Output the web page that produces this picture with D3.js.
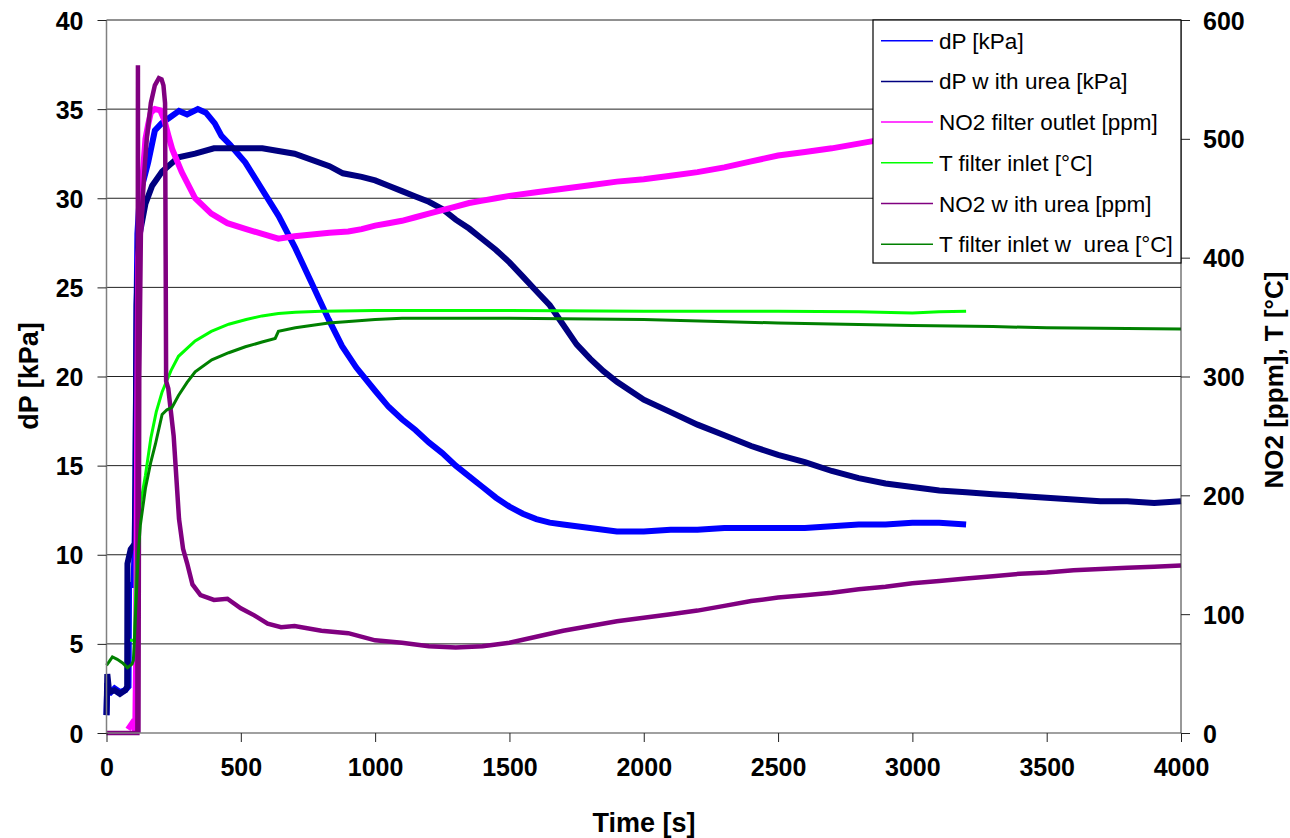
<!DOCTYPE html>
<html><head><meta charset="utf-8">
<script src="https://cdn.jsdelivr.net/npm/d3@7"></script>
<style>body{margin:0;background:#fff}svg{display:block}</style>
</head><body>
<svg id="chart" width="1290" height="838"></svg>
<script>
// ---- data ----
const xTicks = [0,500,1000,1500,2000,2500,3000,3500,4000];
const leftTicks = [0,5,10,15,20,25,30,35,40];
const rightTicks = [0,100,200,300,400,500,600];
const seriesNames = ["dP [kPa]","dP w ith urea [kPa]","NO2 filter outlet [ppm]","T filter inlet [°C]","NO2 w ith urea [ppm]","T filter inlet w  urea [°C]"];
const seriesColors = ["#0000FF","#000080","#FF00FF","#00FF00","#800080","#008000"];

// dP [kPa] (left axis)
const dP = [[0,1.0],[3,2.8],[10,2.2],[30,2.5],[50,2.3],[70,2.4],[82,2.6],[84,8.3],[100,8.3],[104,10],[108,14],[112,24],[115,28],[124,30.2],[155,32],[180,33.8],[205,34.2],[242,34.6],[270,34.9],[300,34.7],[340,35],[370,34.8],[403,34.2],[428,33.5],[460,33],[517,32],[579,30.5],[641,29],[703,27.2],[765,25.2],[827,23.2],[877,21.7],[930,20.5],[1000,19.2],[1050,18.3],[1100,17.6],[1150,17],[1200,16.3],[1250,15.7],[1300,15],[1350,14.4],[1400,13.8],[1450,13.2],[1500,12.7],[1550,12.3],[1600,12],[1650,11.8],[1700,11.7],[1800,11.5],[1900,11.3],[2000,11.3],[2100,11.4],[2200,11.4],[2300,11.5],[2400,11.5],[2500,11.5],[2600,11.5],[2700,11.6],[2800,11.7],[2900,11.7],[3000,11.8],[3100,11.8],[3200,11.7]];
// dP with urea [kPa] (left axis)
const dPUrea = [[0,1.0],[3,3.3],[10,2.3],[30,2.4],[50,2.2],[70,2.4],[77,2.6],[78,9.5],[90,10.3],[100,10.5],[106,10.5],[112,24],[120,27.7],[145,29.7],[170,30.7],[207,31.5],[268,32.3],[330,32.5],[400,32.8],[580,32.8],[700,32.5],[830,31.8],[880,31.4],[950,31.2],[1000,31.0],[1050,30.7],[1100,30.4],[1150,30.1],[1200,29.8],[1250,29.4],[1300,28.8],[1350,28.3],[1400,27.7],[1450,27.1],[1500,26.4],[1550,25.6],[1600,24.8],[1650,24],[1700,22.9],[1750,21.8],[1800,21.0],[1850,20.3],[1900,19.7],[1950,19.2],[2000,18.7],[2100,18.0],[2200,17.3],[2300,16.7],[2400,16.1],[2500,15.6],[2600,15.2],[2700,14.7],[2800,14.3],[2900,14.0],[3000,13.8],[3100,13.6],[3200,13.5],[3300,13.4],[3400,13.3],[3500,13.2],[3600,13.1],[3700,13.0],[3800,13.0],[3900,12.9],[4000,13.0]];
// NO2 filter outlet [ppm] (right axis)
const no2Outlet = [[80,3],[95,8],[104,5],[107,0],[110,60],[114,250],[118,400],[125,420],[135,470],[145,500],[155,512],[165,522],[180,525],[200,524],[215,516],[230,503],[245,491],[280,472],[330,450],[390,437],[450,429],[520,424],[580,420],[640,416],[700,418],[830,421],[900,422],[950,424],[1000,427],[1050,429],[1100,431],[1150,434],[1200,437],[1250,440],[1300,443],[1350,446],[1400,448],[1450,450],[1500,452],[1600,455],[1700,458],[1800,461],[1900,464],[2000,466],[2100,469],[2200,472],[2300,476],[2400,481],[2500,486],[2600,489],[2700,492],[2800,496],[2900,500],[3000,504],[3100,507],[3200,510]];
// T filter inlet [°C] (right axis)
const tInlet = [[88,78],[104,78],[108,110],[112,150],[118,175],[126,192],[145,217],[165,248],[185,270],[207,287],[240,305],[268,317],[330,330],[390,338],[455,344],[520,348],[579,351],[640,353],[703,354],[800,355],[1000,355.5],[1500,355.5],[2000,355],[2500,355],[2800,354.5],[3000,353.5],[3100,354.5],[3200,355]];
// NO2 with urea [ppm] (right axis)
const no2Urea = [[0,0],[115,0],[117,562],[119,0],[122,300],[128,420],[140,470],[150,500],[165,530],[180,545],[195,551],[205,550],[212,545],[218,530],[222,296],[230,290],[240,270],[250,250],[260,215],[270,180],[285,155],[300,143],[320,125],[350,116],[400,112],[450,113],[500,105],[550,99],[600,92],[650,89],[700,90],[800,86],[900,84],[1000,78],[1100,76],[1200,73],[1300,72],[1400,73],[1500,76],[1600,81],[1700,86],[1800,90],[1900,94],[2000,97],[2100,100],[2200,103],[2300,107],[2400,111],[2500,114],[2600,116],[2700,118],[2800,121],[2900,123],[3000,126],[3100,128],[3200,130],[3300,132],[3400,134],[3500,135],[3600,137],[3700,138],[3800,139],[3900,140],[4000,141]];
// T filter inlet with urea [°C] (right axis)
const tInletUrea = [[0,57],[10,60],[22,64],[40,62],[60,59],[78,55],[95,58],[100,61],[104,78],[110,110],[118,150],[126,175],[145,206],[165,228],[182,243],[207,268],[225,272],[244,274],[268,284],[300,295],[330,304],[392,314],[455,320],[517,325],[579,329],[628,332],[640,338],[703,341],[827,345],[890,346],[1000,348],[1100,349],[1500,349],[2000,348],[2500,345],[3000,343],[3300,342],[3500,341],[4000,340]];

// ---- layout ----
const svg = d3.select("#chart");
const X0 = 106.5, X1 = 1181, Y0 = 733, Y1 = 20;
const x = d3.scaleLinear().domain([0,4000]).range([X0,X1]);
const yL = d3.scaleLinear().domain([0,40]).range([Y0,Y1]);
const yR = d3.scaleLinear().domain([0,600]).range([Y0,Y1]);
const FONT = "'Liberation Sans', Arial, sans-serif";

// gridlines
svg.append("g").selectAll("line").data(leftTicks.filter(d=>d>0)).join("line")
  .attr("x1",X0).attr("x2",X1).attr("y1",d=>yL(d)).attr("y2",d=>yL(d))
  .attr("stroke","#222").attr("stroke-width",1);

// series
const series = [
  {data:dP, y:yL, w:6},
  {data:dPUrea, y:yL, w:6},
  {data:no2Outlet, y:yR, w:6},
  {data:tInlet, y:yR, w:3},
  {data:no2Urea, y:yR, w:4.5},
  {data:tInletUrea, y:yR, w:3},
];
series.forEach((s,i)=>{
  const line = d3.line().x(d=>x(d[0])).y(d=>s.y(d[1]));
  svg.append("path").datum(s.data).attr("d",line)
    .attr("fill","none").attr("stroke",seriesColors[i])
    .attr("stroke-width",s.w).attr("stroke-linejoin","miter").attr("stroke-miterlimit",2);
});

// axes lines
svg.append("line").attr("x1",X0).attr("x2",X0).attr("y1",Y1).attr("y2",Y0).attr("stroke","#808080").attr("stroke-width",1.5);
svg.append("line").attr("x1",X0).attr("x2",X1).attr("y1",Y0).attr("y2",Y0).attr("stroke","#808080").attr("stroke-width",1.5);
svg.append("line").attr("x1",X1).attr("x2",X1).attr("y1",Y1).attr("y2",Y0).attr("stroke","#333").attr("stroke-width",1);

// left axis
const gl = svg.append("g").attr("transform",`translate(${X0},0)`)
  .call(d3.axisLeft(yL).tickValues(leftTicks).tickSize(9).tickPadding(14).tickFormat(d3.format("d")));
// right axis
const gr = svg.append("g").attr("transform",`translate(${X1},0)`)
  .call(d3.axisRight(yR).tickValues(rightTicks).tickSize(9).tickPadding(13).tickFormat(d3.format("d")));
// bottom axis
const gb = svg.append("g").attr("transform",`translate(0,${Y0})`)
  .call(d3.axisBottom(x).tickValues(xTicks).tickSize(9).tickPadding(19).tickFormat(d3.format("d")));
[gl,gr,gb].forEach(g=>{
  g.select(".domain").remove();
  g.selectAll(".tick line").attr("stroke","#222");
  g.selectAll(".tick text").attr("font-family",FONT).attr("font-weight","bold").attr("font-size",25).attr("fill","#000");
});
gl.selectAll(".tick text").attr("dy","0.36em");
gr.selectAll(".tick text").attr("dy","0.36em");
gb.selectAll(".tick text").attr("dy","0.6em");

// titles
svg.append("text").attr("transform","translate(38,376) rotate(-90)").attr("text-anchor","middle")
  .attr("font-family",FONT).attr("font-weight","bold").attr("font-size",27).text("dP [kPa]");
svg.append("text").attr("transform","translate(1283,380) rotate(-90)").attr("text-anchor","middle")
  .attr("font-family",FONT).attr("font-weight","bold").attr("font-size",26).text("NO2 [ppm], T [°C]");
svg.append("text").attr("x",644).attr("y",832).attr("text-anchor","middle")
  .attr("font-family",FONT).attr("font-weight","bold").attr("font-size",27).text("Time [s]");

// legend
const lg = svg.append("g");
lg.append("rect").attr("x",873).attr("y",20).attr("width",308).attr("height",243)
  .attr("fill","#fff").attr("stroke","#000").attr("stroke-width",1.2);
seriesNames.forEach((n,i)=>{
  const cy = 40.7 + i*40.7;
  lg.append("line").attr("x1",881).attr("x2",933).attr("y1",cy).attr("y2",cy)
    .attr("stroke",seriesColors[i]).attr("stroke-width",1.5);
  lg.append("text").attr("x",939).attr("y",cy+8).attr("font-family",FONT).attr("font-size",22.5)
    .attr("fill","#000").attr("xml:space","preserve").style("white-space","pre").text(n);
});
</script>
</body></html>
